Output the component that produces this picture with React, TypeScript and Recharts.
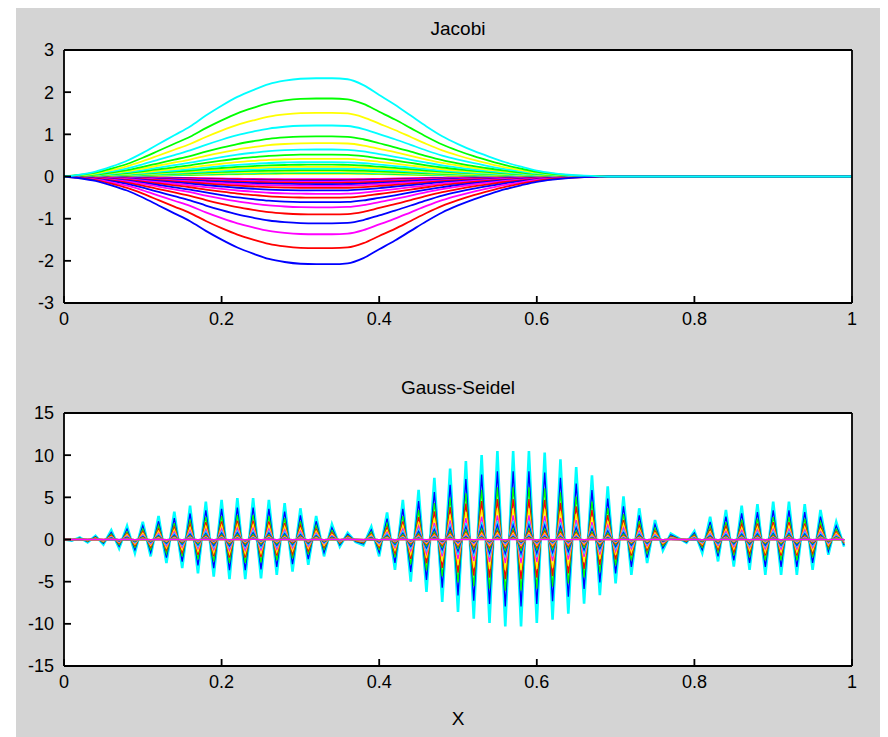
import { CartesianGrid, Line, LineChart, XAxis, YAxis } from "recharts";

// Line colours, in the order the iterates appear from the largest one down.
const colorCycle = ["#00ffff", "#0000ff", "#00ff00", "#ff0000", "#ffff00", "#ff00ff"];

const xTicks = [0, 0.2, 0.4, 0.6, 0.8, 1];
const jacobiTicks = [-3, -2, -1, 0, 1, 2, 3];
const gsTicks = [-15, -10, -5, 0, 5, 10, 15];

// Jacobi: every iterate has the same bump, normalised to a peak of 1.
const jacobiX = [
  0, 0.02, 0.04, 0.06, 0.08, 0.1, 0.12, 0.14, 0.16, 0.18, 0.2, 0.22, 0.24, 0.26, 0.28, 0.3, 0.32, 0.34,
  0.36, 0.38, 0.4, 0.42, 0.44, 0.46, 0.48, 0.5, 0.52, 0.54, 0.56, 0.58, 0.6, 0.62, 0.64, 0.66, 0.68, 0.69, 1,
];
const jacobiShape = [
  0, 0.02, 0.05, 0.1, 0.16, 0.24, 0.33, 0.42, 0.51, 0.62, 0.72, 0.81, 0.88, 0.94, 0.975, 0.995, 1, 1,
  0.99, 0.93, 0.83, 0.73, 0.62, 0.51, 0.41, 0.33, 0.26, 0.2, 0.145, 0.1, 0.06, 0.035, 0.018, 0.008, 0.002, 0, 0,
];
// Peak value of each Jacobi iterate, largest first (signs alternate).
const jacobiPeaks = [
  2.33, -2.08, 1.85, -1.7, 1.51, -1.37, 1.21, -1.11, 0.95, -0.9, 0.79, -0.73, 0.64, -0.61, 0.52, -0.5,
  0.42, -0.41, 0.34, -0.33, 0.28, -0.27, 0.23, -0.22, 0.19, -0.18, 0.15, -0.15, 0.12, -0.12, 0.1, -0.1,
  0.08, -0.08, 0.065, -0.065,
];

// Gauss-Seidel: outermost iterate on the 0.01 grid.
const gsX = [
  0, 0.01, 0.02, 0.03, 0.04, 0.05, 0.06, 0.07, 0.08, 0.09, 0.1, 0.11, 0.12, 0.13, 0.14, 0.15, 0.16, 0.17,
  0.18, 0.19, 0.2, 0.21, 0.22, 0.23, 0.24, 0.25, 0.26, 0.27, 0.28, 0.29, 0.3, 0.31, 0.32, 0.33, 0.34, 0.35,
  0.36, 0.37, 0.38, 0.39, 0.4, 0.41, 0.42, 0.43, 0.44, 0.45, 0.46, 0.47, 0.48, 0.49, 0.5, 0.51, 0.52, 0.53,
  0.54, 0.55, 0.56, 0.57, 0.58, 0.59, 0.6, 0.61, 0.62, 0.63, 0.64, 0.65, 0.66, 0.67, 0.68, 0.69, 0.7, 0.71,
  0.72, 0.73, 0.74, 0.75, 0.76, 0.77, 0.78, 0.79, 0.8, 0.81, 0.82, 0.83, 0.84, 0.85, 0.86, 0.87, 0.88, 0.89,
  0.9, 0.91, 0.92, 0.93, 0.94, 0.95, 0.96, 0.97, 0.98, 0.99,
];
const gsOuter = [
  0, -0.15, 0.25, -0.35, 0.45, -0.6, 1.1, -1.05, 1.6, -1.6, 2.1, -2.0, 2.8, -2.8, 3.3, -3.4, 4.0, -4.0,
  4.5, -4.4, 4.7, -4.7, 4.9, -4.7, 4.9, -4.6, 4.7, -4.2, 4.3, -3.8, 3.7, -3.0, 2.8, -2.0, 1.8, -0.85,
  0.8, -0.3, -0.7, 1.5, -2.0, 3.2, -3.6, 4.7, -5.0, 5.9, -6.2, 7.3, -7.4, 8.4, -8.6, 9.3, -9.4, 10.0,
  -9.9, 10.5, -10.3, 10.5, -10.3, 10.5, -9.9, 10.3, -9.5, 9.5, -8.8, 8.6, -7.6, 7.6, -6.6, 6.3, -5.2, 5.1,
  -4.2, 3.7, -2.8, 2.3, -1.3, 0.7, 0.15, -0.4, 1.0, -1.6, 2.7, -2.6, 3.5, -3.2, 4.0, -3.6, 4.2, -4.2,
  4.5, -4.2, 4.5, -4.2, 4.2, -3.6, 3.5, -1.8, 2.1, -0.85,
];
// Peak of each Gauss-Seidel iterate, largest first.
const gsPeaks = [
  10.5, 8.1, 6.2, 4.8, 3.7, 2.85, 2.2, 1.7, 1.3, 1.0, 0.77, 0.6, 0.46, 0.35, 0.27, 0.21, 0.16, 0.125,
  0.095, 0.075, 0.057, 0.044, 0.034, 0.026,
];

type Row = Record<string, number>;

const jacobiRows: Row[] = jacobiX.map((x, i) => {
  const row: Row = { x };
  jacobiPeaks.forEach((p, k) => {
    row[`j${k}`] = p * jacobiShape[i];
  });
  return row;
});

const gsRows: Row[] = gsX.map((x, i) => {
  const row: Row = { x };
  gsPeaks.forEach((p, k) => {
    row[`g${k}`] = (gsOuter[i] * p) / gsPeaks[0];
  });
  return row;
});

const FONT = '"Liberation Sans", Arial, Helvetica, sans-serif';
const FONT_SIZE = 18;

function AxisTick(props: any) {
  const { x, y, payload, textAnchor, verticalAnchor } = props;
  const dy = verticalAnchor === "start" ? "0.71em" : verticalAnchor === "end" ? "0" : "0.355em";
  return (
    <text x={x} y={y} dy={dy} textAnchor={textAnchor} fontSize={FONT_SIZE} fontFamily={FONT} fill="#000">
      {String(payload.value)}
    </text>
  );
}

const axisStyle = { stroke: "#000", strokeWidth: 1.8 };

function Panel({
  rows,
  prefix,
  count,
  domain,
  yTicks,
  top,
  marginTop,
  marginBottom,
  curve,
  lineWidth,
  outerWidth,
  largestOnTop,
}: {
  rows: Row[];
  prefix: string;
  count: number;
  domain: [number, number];
  yTicks: number[];
  top: number;
  marginTop: number;
  marginBottom: number;
  curve: "linear" | "monotone";
  lineWidth: number;
  outerWidth: number;
  largestOnTop: boolean;
}) {
  const ascending = Array.from({ length: count }, (_, k) => count - 1 - k);
  const order = largestOnTop ? ascending : [...ascending].reverse();
  return (
    <div style={{ position: "absolute", left: 0, top }}>
      <LineChart
        width={888}
        height={340}
        data={rows}
        margin={{ top: marginTop, right: 36, bottom: marginBottom, left: 24 }}
      >
        <CartesianGrid horizontal={false} vertical={false} fill="#ffffff" />
        {order.map((k) => (
          <Line
            key={k}
            type={curve}
            dataKey={`${prefix}${k}`}
            stroke={colorCycle[k % colorCycle.length]}
            strokeWidth={k === 0 ? outerWidth : lineWidth}
            dot={false}
            activeDot={false}
            isAnimationActive={false}
          />
        ))}
        <XAxis
          dataKey="x"
          type="number"
          domain={[0, 1]}
          ticks={xTicks}
          interval={0}
          height={30}
          tickSize={-7}
          tickMargin={16}
          tick={AxisTick}
          axisLine={axisStyle}
          tickLine={axisStyle}
        />
        <XAxis
          xAxisId="top"
          orientation="top"
          type="number"
          domain={[0, 1]}
          ticks={xTicks}
          interval={0}
          mirror
          tickSize={7}
          tick={false}
          axisLine={axisStyle}
          tickLine={axisStyle}
        />
        <YAxis
          type="number"
          domain={domain}
          ticks={yTicks}
          interval={0}
          width={40}
          tickSize={-7}
          tickMargin={17}
          tick={AxisTick}
          axisLine={axisStyle}
          tickLine={axisStyle}
          allowDataOverflow
        />
        <YAxis
          yAxisId="right"
          orientation="right"
          type="number"
          domain={domain}
          ticks={yTicks}
          interval={0}
          mirror
          tickSize={7}
          tick={false}
          axisLine={axisStyle}
          tickLine={axisStyle}
        />
      </LineChart>
    </div>
  );
}

export default function App() {
  return (
    <div
      style={{
        position: "relative",
        width: 888,
        height: 737,
        margin: "-8px 0 0 -8px",
        background: "#ffffff",
        fontFamily: FONT,
        overflow: "hidden",
      }}
    >
      <div style={{ position: "absolute", left: 16, top: 6, right: 0, bottom: 0, background: "#d4d4d4" }} />
      <Panel
        rows={jacobiRows}
        prefix="j"
        count={jacobiPeaks.length}
        domain={[-3, 3]}
        yTicks={jacobiTicks}
        top={0}
        marginTop={50}
        marginBottom={7}
        curve="monotone"
        lineWidth={1.8}
        outerWidth={1.8}
        largestOnTop
      />
      <Panel
        rows={gsRows}
        prefix="g"
        count={gsPeaks.length}
        domain={[-15, 15]}
        yTicks={gsTicks}
        top={360}
        marginTop={53}
        marginBottom={4}
        curve="linear"
        lineWidth={1.3}
        outerWidth={2.6}
        largestOnTop={false}
      />
      <svg
        width={888}
        height={737}
        style={{ position: "absolute", left: 0, top: 0, pointerEvents: "none" }}
      >
        <g fontFamily={FONT} fontSize={19} fill="#000" textAnchor="middle">
          <text x={458} y={35}>Jacobi</text>
          <text x={458} y={394}>Gauss-Seidel</text>
          <text x={458} y={725}>X</text>
        </g>
      </svg>
    </div>
  );
}
